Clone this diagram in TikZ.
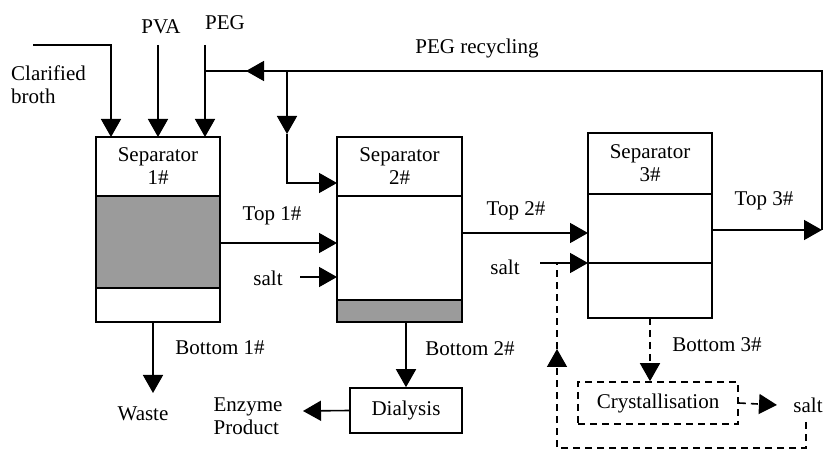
\documentclass[tikz,border=0pt]{standalone}
\usepackage{fontspec}
\setmainfont{Liberation Serif}
\usetikzlibrary{arrows.meta,calc}
\definecolor{sepgray}{RGB}{155,155,155}
\begin{document}
\begin{tikzpicture}[x=1pt,y=-1pt,font=\fontsize{21}{23}\selectfont,
  ln/.style={line width=1.6pt},
  arr/.style={ln,-{Triangle[length=18pt 0,width=20pt 0]}},
  dsh/.style={dash pattern=on 7pt off 5pt},
  part/.style={draw,line width=1.6pt,minimum width=124pt,inner sep=0pt,outer sep=0pt,align=center},
  lbl/.style={inner sep=0pt,align=center}]
\useasboundingbox (0,0) rectangle (823,449);
% Separator 1
\node[part,minimum height=59pt] (s1h) at (158,166.5) {Separator\\1\#};
\node[part,minimum height=92pt,fill=sepgray] (s1m) at (158,242) {};
\node[part,minimum height=34pt] (s1b) at (158,305) {};
% Separator 2
\node[part,minimum height=59pt,minimum width=125pt] (s2h) at (399.5,166.5) {Separator\\2\#};
\node[part,minimum height=104pt,minimum width=125pt] (s2m) at (399.5,248) {};
\node[part,minimum height=22pt,minimum width=125pt,fill=sepgray] (s2b) at (399.5,311) {};
% Separator 3
\node[part,minimum height=61pt] (s3h) at (650,163.5) {Separator\\3\#};
\node[part,minimum height=69pt] (s3m) at (650,228.5) {};
\node[part,minimum height=55pt] (s3b) at (650,290.5) {};
% Other boxes
\node[draw,ln,minimum width=112pt,minimum height=45pt,inner sep=0pt] (dial) at (406,410.5) {Dialysis};
\node[draw,ln,dsh,minimum width=160pt,minimum height=42pt,inner sep=0pt] (crys) at (658,403) {Crystallisation};
% Labels
\node[lbl] (pva) at (161,27) {PVA};
\node[lbl] (peg) at (225,23) {PEG};
\node[lbl,anchor=west,align=left] (cbl) at (11,85) {Clarified\\broth};
\node[lbl] (pegr) at (477,48) {PEG recycling};
\node[lbl] (t1) at (272,216) {Top 1\#};
\node[lbl] (t2) at (516,211) {Top 2\#};
\node[lbl] (t3) at (764,201) {Top 3\#};
\node[lbl] (b1) at (220,348) {Bottom 1\#};
\node[lbl] (b2) at (470,349) {Bottom 2\#};
\node[lbl] (b3) at (717,345) {Bottom 3\#};
\node[lbl] (salt2) at (268,278) {salt};
\node[lbl] (salt3) at (505,267) {salt};
\node[lbl] (salt4) at (808,405) {salt};
\node[lbl] (waste) at (143,414) {Waste};
\node[lbl,align=left] (enz) at (248,416) {Enzyme\\Product};
% Coordinates
\coordinate (cb) at (33,45);
\coordinate (pvas) at (158,45);
\coordinate (pegs) at (205,45);
\coordinate (t3e) at (822,230);
\coordinate (rc) at (822,71);
\coordinate (pegj) at (205,71);
\coordinate (rtip) at (246,71);
\coordinate (br) at (287,71);
\coordinate (brm) at (287,134);
\coordinate (wend) at (153,393);
\coordinate (s2s) at (300,277);
\coordinate (s3s) at (540,263);
\coordinate (ep) at (303,411);
\coordinate (cse) at (777,405);
\coordinate (l1) at (806,422);
\coordinate (l2) at (806,448);
\coordinate (l3) at (557,448);
\coordinate (l4) at (557,349);
\coordinate (l5) at (557,263);
% Feeds
\draw[arr] (cb) -| ([xshift=-47pt]s1h.north);
\draw[arr] (pvas) -- (s1h.north);
\draw[arr] (pegs) -- ([xshift=47pt]s1h.north);
% Top streams
\draw[arr] (s1m.east |- 0,243) -- (s2m.west |- 0,243);
\draw[arr] (s2m.east |- 0,233) -- (s3m.west |- 0,233);
\draw[arr] (s3m.east |- t3e) -- (t3e);
% PEG recycling
\draw[ln] (t3e) -- (rc) -- (rtip);
\draw[arr] (rtip) ++(2,0) -- (rtip);
\draw[ln] (rtip) -- (pegj);
\draw[arr] (br) -- (brm);
\draw[arr] (brm) |- (s2h.west |- 0,183);
% Salt inputs
\draw[arr] (s2s) -- (s2m.west |- s2s);
\draw[arr] (s3s) -- (s3m.south west);
% Bottoms
\draw[arr] (s1b.south -| wend) -- (wend);
\draw[arr] (s2b.south -| dial.north) -- (dial.north);
\draw[arr] (dial.west) -- (ep);
\draw[arr,dsh] (s3b.south) -- (s3b.south |- crys.north);
\draw[arr,dsh] (crys.east) -- (cse);
% Salt loop
\draw[arr,dsh] (l1) -- (l2) -- (l3) -- (l4);
\draw[ln,dsh] (l4) -- (l5);
\end{tikzpicture}
\end{document}
